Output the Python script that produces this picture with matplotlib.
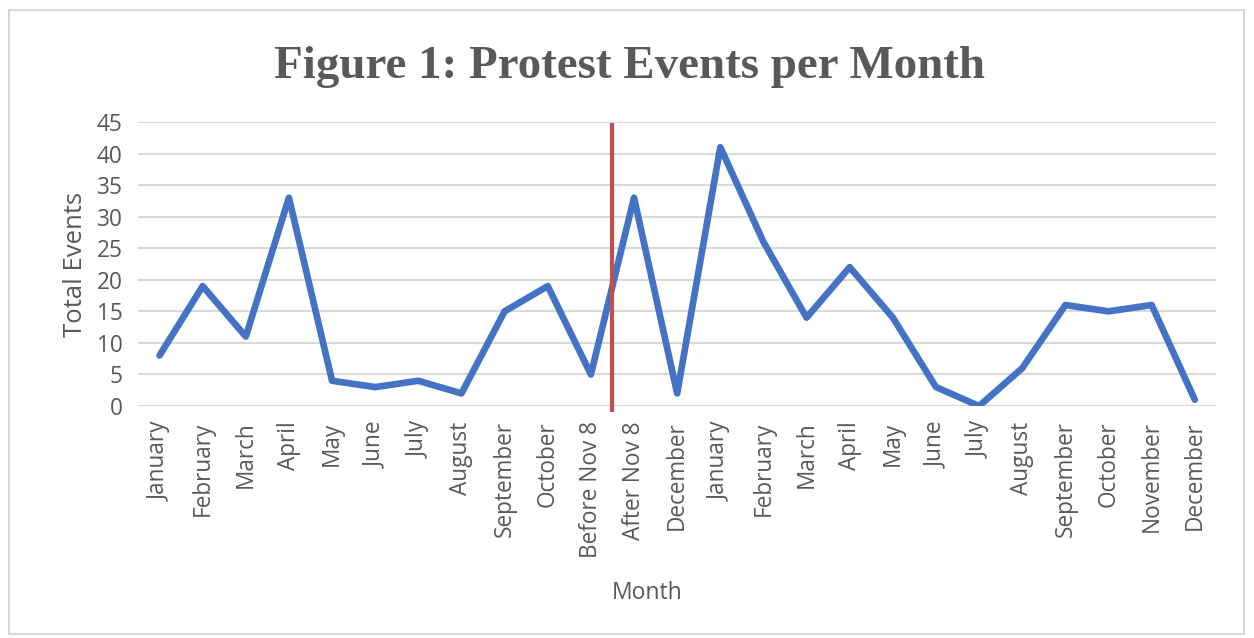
import matplotlib.pyplot as plt
from matplotlib.patches import Rectangle

months = ["January", "February", "March", "April", "May", "June", "July",
          "August", "September", "October", "Before Nov 8", "After Nov 8",
          "December", "January", "February", "March", "April", "May", "June",
          "July", "August", "September", "October", "November", "December"]
events = [8, 19, 11, 33, 4, 3, 4, 2, 15, 19, 5, 33, 2,
          41, 26, 14, 22, 14, 3, 0, 6, 16, 15, 16, 1]
split_label = "After Nov 8"

grey = '#595959'
fig = plt.figure(figsize=(12.54, 6.38), dpi=100)
fig.patches.append(Rectangle((0.007, 0.006), 0.985, 0.978, transform=fig.transFigure,
                             fill=False, edgecolor='#d0d0d0', lw=1.2))
ax = fig.add_axes([0.110, 0.3636, 0.860, 0.4452])

x = list(range(len(months)))
ax.plot(x, events, color='#4472C4', lw=4.8, solid_joinstyle='round',
        solid_capstyle='round', zorder=3)

# red marker between the two halves of November
split = months.index(split_label) - 0.5
ax.plot([split, split], [-0.6, 44.6], color='#C0504D', lw=3, clip_on=False, zorder=4)

ax.set_xlim(-0.5, len(months) - 0.5)
ax.set_ylim(0, 45)
ax.set_yticks(range(0, 50, 5))
ax.set_xticks(x)
ax.set_xticklabels(months, rotation=90)
ax.grid(axis='y', color='#d9d9d9', lw=1.5)
ax.set_axisbelow(True)
for s in ax.spines.values():
    s.set_visible(False)
ax.tick_params(length=0, labelsize=16.3, labelcolor=grey, pad=11)
for lab in ax.get_xticklabels() + ax.get_yticklabels():
    lab.set_family('Open Sans')

ax.set_ylabel('Total Events', fontsize=18.5, color=grey, family='Open Sans', labelpad=6)
ax.set_xlabel('Month', fontsize=16.5, color=grey, family='Open Sans')
ax.xaxis.set_label_coords(0.472, -0.616)
fig.text(0.502, 0.895, 'Figure 1: Protest Events per Month', ha='center', va='center',
         fontsize=33.8, fontweight='bold', color=grey, family='Liberation Serif')

fig.savefig('out.png', dpi=100)
